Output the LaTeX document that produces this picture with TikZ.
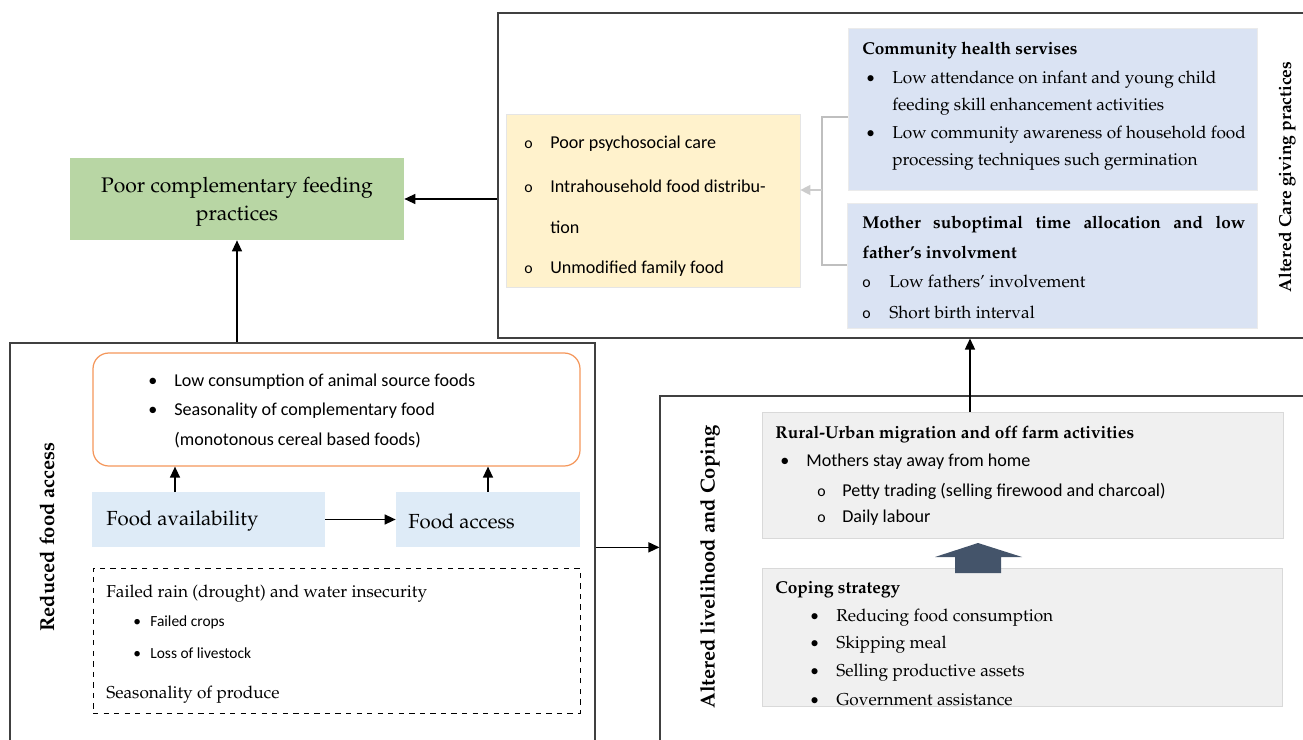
\documentclass[tikz,border=0pt]{standalone}
\usepackage[T1]{fontenc}
\usepackage{fontspec}
\usepackage{tikz}
\usetikzlibrary{arrows.meta,fit,positioning}
\newfontfamily\calfont{Carlito}
\newcommand\palfont{\fontencoding{T1}\fontfamily{ppl}\selectfont}
\newcommand\itm[2][0.52cm]{\makebox[#1][l]{#2}}
\definecolor{pcfgreen}{RGB}{184,214,164}
\definecolor{careyel}{RGB}{255,242,204}
\definecolor{careblue}{RGB}{218,227,243}
\definecolor{foodblue}{RGB}{222,235,247}
\definecolor{consorange}{RGB}{244,150,90}
\definecolor{copegray}{RGB}{240,240,240}
\definecolor{blockblue}{RGB}{68,84,106}

\begin{document}
\begin{tikzpicture}[x=0.02cm, y=-0.02cm,
every node/.style = {inner sep=0pt},
     frame/.style = {draw=black!75, line width=0.6pt},
    serif/.style = {anchor=west, font=\palfont\fontsize{9.8}{12}\selectfont},
    shead/.style = {anchor=west, font=\palfont\bfseries\fontsize{9.8}{12}\selectfont},
     sans/.style = {anchor=west, font=\calfont\fontsize{10.3}{12}\selectfont},
    small/.style = {anchor=west, font=\calfont\fontsize{8.8}{11}\selectfont},
     side/.style = {rotate=90, font=\palfont\bfseries\fontsize{#1}{12}\selectfont},
      arr/.style = {-{Triangle[length=2.2mm,width=2mm]}, line width=0.8pt},
  bracket/.style = {draw=black!25, line width=0.8pt}]
\useasboundingbox (0,0) rectangle (1303,740);
% outer panels
\node[frame, fit={(498,13) (1320,338)}]                 (care) {};
\node[frame, fit={(10,343) (595,760)}]                  (rfa)  {};
\node[frame, fit={(660,396) (1320,760)}]                (alc)  {};
% boxes
\node[fill=pcfgreen, fit={(70,158) (404,240)}]          (pcf)  {};
\node[fill=careyel, draw=black!10, fit={(506,114) (800,287)}] (yel) {};
\node[fill=careblue, draw=black!8, fit={(848,28) (1257,190)}] (chs) {};
\node[fill=careblue, draw=black!8, fit={(847,203) (1257,328)}] (msa) {};
\node[draw=consorange, line width=0.7pt, rounded corners=9pt,
      fit={(93,353) (580,466)}]                         (cons) {};
\node[fill=foodblue, fit={(92,492) (325,547)}]          (avail) {};
\node[fill=foodblue, fit={(396,492) (580,547)}]         (access) {};
\node[draw, dashed, line width=0.5pt, fit={(93,568) (580,713)}] (risk) {};
\node[fill=copegray, draw=black!15, fit={(762,412) (1283,538)}] (mig) {};
\node[fill=copegray, draw=black!15, fit={(762,568) (1282,706)}] (cope) {};

% texts
\node[align=center, font=\palfont\fontsize{12}{16}\selectfont]
      at ([yshift=-0.05cm]pcf.center) (pcft) {Poor complementary feeding\\practices};
\node[side=9.9] at (1287,177) (caret) {Altered Care giving practices};
\node[side=11.5] at (47,537)  (rfat)  {Reduced food access};
\node[side=11.5] at (710,567) (alct)  {Altered livelihood and Coping};

\node[shead] at (862,50)  (chs0) {Community health servises};
\node[serif] at (866,80)  (chs1) {\itm{\calfont•}Low attendance on infant and young child};
\node[serif] at (892,107) (chs2) {feeding skill enhancement activities};
\node[serif] at (866,135) (chs3) {\itm{\calfont•}Low community awareness of household food};
\node[serif] at (892,162) (chs4) {processing techniques such germination};

\node[shead] at (862,224) (msa0) {\makebox[7.66cm][s]{Mother suboptimal time allocation and low}};
\node[shead] at (862,252) (msa1) {father's involvment};
\node[serif] at (862,281) (msa2) {\itm[0.54cm]{\calfont\small o}Low fathers' involvement};
\node[serif] at (862,312) (msa3) {\itm[0.54cm]{\calfont\small o}Short birth interval};

\node[sans] at (524,144) (yel1) {\itm{\small o}Poor psychosocial care};
\node[sans] at (524,186) (yel2) {\itm{\small o}Intrahousehold food distribu-};
\node[sans] at (550,227) (yel3) {tion};
\node[sans] at (524,269) (yel4) {\itm{\small o}Unmodified family food};

\node[sans] at (148,382) (cons1) {\itm{•}Low consumption of animal source foods};
\node[sans] at (148,411) (cons2) {\itm{•}Seasonality of complementary food};
\node[sans] at (174,440) (cons3) {(monotonous cereal based foods)};

\node[anchor=west, font=\palfont\fontsize{11.6}{14}\selectfont] at (106,521) (availt) {Food availability};
\node[anchor=west, font=\palfont\fontsize{11.6}{14}\selectfont] at (408,521) (accesst) {Food access};

\node[serif] at (106,594) (risk1) {Failed rain (drought) and water insecurity};
\node[small] at (133,622) (risk2) {\itm[0.34cm]{•}Failed crops};
\node[small] at (133,653) (risk3) {\itm[0.34cm]{•}Loss of livestock};
\node[serif] at (106,695) (risk4) {Seasonality of produce};

\node[shead] at (775,434) (mig0) {Rural-Urban migration and off farm activities};
\node[sans]  at (780,462) (mig1) {\itm{•}Mothers stay away from home};
\node[sans]  at (817,491) (mig2) {\itm[0.5cm]{\small o}Petty trading (selling firewood and charcoal)};
\node[sans]  at (817,518) (mig3) {\itm[0.5cm]{\small o}Daily labour};

\node[shead] at (775,590) (cope0) {Coping strategy};
\foreach \y/\t in {618/{Reducing food consumption}, 645/{Skipping meal},
                   673/{Selling productive assets}, 700/{Government assistance}}
  \node[serif] at (810,\y) (cope\y) {\itm{\calfont•}\t};

% connectors
\coordinate (b1) at (822,117);
\coordinate (b2) at (822,265);
\coordinate (b3) at (822,190);
\coordinate (a1) at (175,492);
\coordinate (m1) at (970,412);
\draw[bracket] (chs.west |- b1) -- (b1) -- (b2) -- (msa.west |- b2);
\draw[bracket, -{Triangle[length=2mm,width=2mm]}, draw=black!20] (b3) -- (yel.east |- b3);
\draw[arr] (care.west |- pcf.east) -- (pcf.east);
\draw[arr] (rfa.north -| pcf.south) -- (pcf.south);
\draw[arr] (avail.east) -- (access.west);
\draw[arr] (a1) -- (a1 |- cons.south);
\draw[arr] (access.north) -- (access.north |- cons.south);
\draw[arr] (rfa.east |- avail.south) -- (alc.west |- avail.south);
\draw[arr] (m1) -- (m1 |- care.south);
\fill[blockblue] (935,557) -- (978,543) -- (1022,557) -- (1001,557)
    -- (1001,573) -- (955,573) -- (955,557) -- cycle;
\end{tikzpicture}
\end{document}
